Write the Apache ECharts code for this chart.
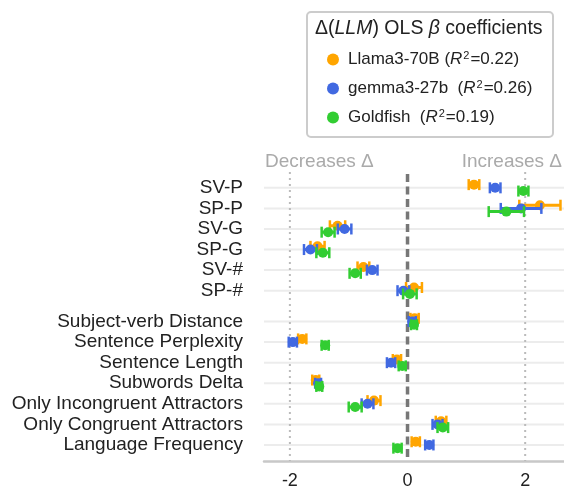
<!DOCTYPE html>
<html>
<head>
<meta charset="utf-8">
<script src="https://cdn.jsdelivr.net/npm/echarts@6/dist/echarts.min.js"></script>
<style>html,body{margin:0;padding:0;background:#fff;}#main{width:564px;height:490px;}</style>
</head>
<body>
<div id="main"></div>
<script>
// ---- data ----
const categories = ['SV-P','SP-P','SV-G','SP-G','SV-#','SP-#',
  'Subject-verb Distance','Sentence Perplexity','Sentence Length','Subwords Delta',
  'Only Incongruent Attractors','Only Congruent Attractors','Language Frequency'];
const firstGroupSize = 6;
const models = ['Llama3-70B', 'gemma3-27b', 'Goldfish'];
const r2 = ['0.22', '0.26', '0.19'];
const llamaBeta = [1.13, 2.25, -1.19, -1.53, -0.75, 0.11, 0.12, -1.79, -0.18, -1.56, -0.57, 0.57, 0.14];
const llamaErr  = [0.09, 0.35, 0.13, 0.12, 0.10, 0.135, 0.07, 0.07, 0.07, 0.06, 0.11, 0.09, 0.07];
const gemmaBeta = [1.49, 1.93, -1.07, -1.65, -0.60, -0.07, 0.08, -1.95, -0.28, -1.52, -0.68, 0.51, 0.37];
const gemmaErr  = [0.09, 0.345, 0.115, 0.11, 0.09, 0.10, 0.06, 0.07, 0.07, 0.05, 0.10, 0.085, 0.07];
const goldBeta  = [1.97, 1.68, -1.35, -1.44, -0.89, 0.04, 0.11, -1.40, -0.09, -1.50, -0.89, 0.60, -0.17];
const goldErr   = [0.085, 0.30, 0.11, 0.11, 0.095, 0.115, 0.05, 0.06, 0.06, 0.05, 0.11, 0.09, 0.07];
const xTicks = [-2, 0, 2];
const sideRefs = [-2, 2];
const zeroRef = [0];

// ---- layout ----
const FONT = '"Liberation Sans", Arial, Helvetica, sans-serif';
const rowPos = categories.map((c, i) => i + (i >= firstGroupSize ? 0.5 : 0));
const colors = ['#FFA500', '#4169E1', '#32CD32'];
const offsets = [-3.2, 0, 3.2];
const betas = [llamaBeta, gemmaBeta, goldBeta];
const errs = [llamaErr, gemmaErr, goldErr];

function errRender(offset, color) {
  return function (params, api) {
    const y = api.value(0), b = api.value(1), e = api.value(2);
    const c = api.coord([b, y]);
    const l = api.coord([b - e, y]);
    const r = api.coord([b + e, y]);
    const yy = c[1] + offset;
    return {
      type: 'group',
      children: [
        { type: 'line', shape: { x1: l[0], y1: yy, x2: r[0], y2: yy }, style: { stroke: color, lineWidth: 3 } },
        { type: 'line', shape: { x1: l[0], y1: yy - 5.5, x2: l[0], y2: yy + 5.5 }, style: { stroke: color, lineWidth: 2.5 } },
        { type: 'line', shape: { x1: r[0], y1: yy - 5.5, x2: r[0], y2: yy + 5.5 }, style: { stroke: color, lineWidth: 2.5 } },
        { type: 'circle', shape: { cx: c[0], cy: yy, r: 5 }, style: { fill: color } }
      ]
    };
  };
}

const series = [];
// row grid lines
series.push({
  type: 'custom', silent: true, z: 1, legendHoverLink: false,
  data: rowPos.map(p => [p]),
  encode: { y: 0 },
  renderItem: function (params, api) {
    const cs = params.coordSys;
    const y = api.coord([0, api.value(0)])[1];
    return { type: 'line', shape: { x1: cs.x, y1: y, x2: cs.x + cs.width, y2: y }, style: { stroke: '#ececec', lineWidth: 2 } };
  }
});
// dotted reference lines
series.push({
  type: 'custom', silent: true, z: 2,
  data: sideRefs.map(v => [v]),
  encode: { x: 0 },
  renderItem: function (params, api) {
    const cs = params.coordSys;
    const x = api.coord([api.value(0), 0])[0];
    return { type: 'line', shape: { x1: x, y1: cs.y, x2: x, y2: cs.y + cs.height }, style: { stroke: '#bbbbbb', lineWidth: 2, lineDash: [2, 4] } };
  }
});
// zero line
series.push({
  type: 'custom', silent: true, z: 2,
  data: zeroRef.map(v => [v]),
  encode: { x: 0 },
  renderItem: function (params, api) {
    const cs = params.coordSys;
    const x = api.coord([api.value(0), 0])[0];
    return { type: 'line', shape: { x1: x, y1: cs.y + 2, x2: x, y2: cs.y + cs.height }, style: { stroke: '#777777', lineWidth: 3.5, lineDash: [8, 4.5] } };
  }
});
models.forEach((m, k) => {
  series.push({
    name: m, type: 'custom', z: 5 + k,
    itemStyle: { color: colors[k] },
    data: rowPos.map((p, i) => [p, betas[k][i], errs[k][i]]),
    encode: { y: 0, x: 1 },
    renderItem: errRender(offsets[k], colors[k])
  });
});

const chart = echarts.init(document.getElementById('main'), null, { renderer: 'canvas' });
chart.setOption({
  animation: false,
  backgroundColor: '#ffffff',
  grid: { left: 264, right: 0, top: 172, bottom: 23, containLabel: false },
  xAxis: {
    type: 'value', min: -2.44, max: 2.66,
    axisLine: { show: true, onZero: false, lineStyle: { color: '#c8c8c8', width: 2.5 } },
    axisTick: { show: false },
    splitLine: { show: false },
    axisLabel: { customValues: xTicks, color: '#222', fontSize: 18, fontFamily: FONT, margin: 11 }
  },
  yAxis: {
    type: 'value', inverse: true, min: -0.77, max: 13.28,
    axisLine: { show: false }, axisTick: { show: false }, splitLine: { show: false },
    axisLabel: {
      customValues: rowPos, color: '#222', fontSize: 19, fontFamily: FONT, margin: 21,
      formatter: function (v) {
        const i = rowPos.findIndex(p => Math.abs(p - v) < 1e-6);
        return i >= 0 ? categories[i] : '';
      }
    }
  },
  legend: {
    orient: 'vertical', left: 327, top: 50, itemGap: 10, padding: 0,
    itemWidth: 12, itemHeight: 12, icon: 'circle',
    data: models,
    formatter: function (name) {
      const k = models.indexOf(name);
      const sep = k === 0 ? ' ' : '  ';
      return '{n|' + name + sep + '(}{i|R}{s|2}{n|=' + r2[k] + ')}';
    },
    textStyle: {
      color: '#222', fontSize: 17, fontFamily: FONT, lineHeight: 19, padding: [0, 0, 0, 4],
      rich: {
        n: { fontSize: 17, fontFamily: FONT, color: '#222', lineHeight: 19 },
        i: { fontSize: 17, fontFamily: FONT, fontStyle: 'italic', color: '#222', lineHeight: 19 },
        s: { fontSize: 11, fontFamily: FONT, color: '#222', verticalAlign: 'top', lineHeight: 19, padding: [0, 1, 8, 1] }
      }
    }
  },
  graphic: [
    { type: 'rect', z: -1, shape: { x: 307, y: 12, width: 246, height: 125, r: 4 }, style: { fill: '#fff', stroke: '#cccccc', lineWidth: 2 } },
    { type: 'text', x: 315, y: 29, style: {
        text: '{n|Δ(}{i|LLM}{n|) OLS }{i|β}{n| coefficients}', verticalAlign: 'middle',
        rich: {
          n: { fontSize: 19.5, fontFamily: FONT, fill: '#222' },
          i: { fontSize: 19.5, fontFamily: FONT, fontStyle: 'italic', fill: '#222' }
        }
      } },
    { type: 'text', x: 265, y: 162, style: { text: 'Decreases Δ', fontSize: 19, fontFamily: FONT, fill: '#aaaaaa', verticalAlign: 'middle', align: 'left' } },
    { type: 'text', x: 562, y: 162, style: { text: 'Increases Δ', fontSize: 19, fontFamily: FONT, fill: '#aaaaaa', verticalAlign: 'middle', align: 'right' } }
  ],
  series: series
});
</script>
</body>
</html>
